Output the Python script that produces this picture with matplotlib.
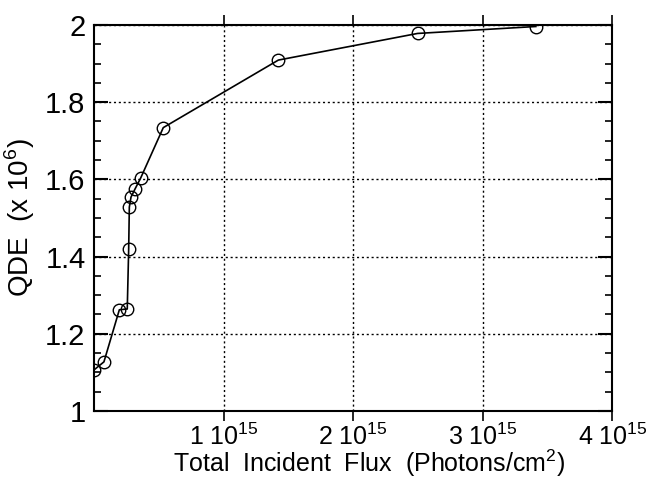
import matplotlib.pyplot as plt
import numpy as np
from matplotlib.ticker import MultipleLocator

plt.rcParams['font.family'] = ['Liberation Sans', 'DejaVu Sans']
plt.rcParams['mathtext.fontset'] = 'custom'
plt.rcParams['mathtext.rm'] = 'Liberation Sans'

# Flujo incidente total (en unidades de 1e15 fotones/cm^2) y QDE (x 1e6)
flujo = np.array([0.0, 0.077, 0.196, 0.257, 0.268, 0.273, 0.286, 0.317, 0.360,
                  0.535, 1.423, 2.497, 3.41])
qde = np.array([1.106, 1.127, 1.262, 1.264, 1.420, 1.528, 1.554, 1.575, 1.603,
                1.734, 1.909, 1.978, 1.996])

xticks = [1, 2, 3, 4]
xtick_labels = [r'1 10$^{15}$', r'2 10$^{15}$', r'3 10$^{15}$', r'4 10$^{15}$']
yticks = [1, 1.2, 1.4, 1.6, 1.8, 2]
ytick_labels = ['1', '1.2', '1.4', '1.6', '1.8', '2']

fig = plt.figure(figsize=(6.57, 4.80), dpi=100)
ax = fig.add_axes([0.143, 0.144, 0.789, 0.804])

ax.plot(flujo, qde, color='black', linewidth=1.2, marker='o', markersize=9,
        markerfacecolor='none', markeredgecolor='black', markeredgewidth=1.0)

ax.set_xlim(0, 4)
ax.set_ylim(1, 2)
ax.set_xticks(xticks)
ax.set_xticklabels(xtick_labels, fontsize=18)
ax.set_yticks(yticks)
ax.set_yticklabels(ytick_labels, fontsize=21)
ax.yaxis.set_minor_locator(MultipleLocator(0.05))

ax.tick_params(axis='x', direction='out', top=True, length=7, width=1.2, pad=2)
ax.tick_params(axis='y', which='major', direction='in', left=True, right=True,
               length=10, width=1.5, pad=6)
ax.tick_params(axis='y', which='minor', direction='in', left=True, right=True,
               length=5, width=1.2)

ax.grid(True, which='major', color='black', linestyle=(0, (1.5, 2)), linewidth=1.0)
for s in ax.spines.values():
    s.set_linewidth(1.5)

ax.set_xlabel(r'Total  Incident  Flux  (Photons/cm$^2$)', fontsize=18, va='center')
ax.xaxis.set_label_coords(0.53, -0.137)
ax.set_ylabel(r'QDE  (x 10$^6$)', fontsize=20, labelpad=6)

fig.savefig('out.png', dpi=100)
